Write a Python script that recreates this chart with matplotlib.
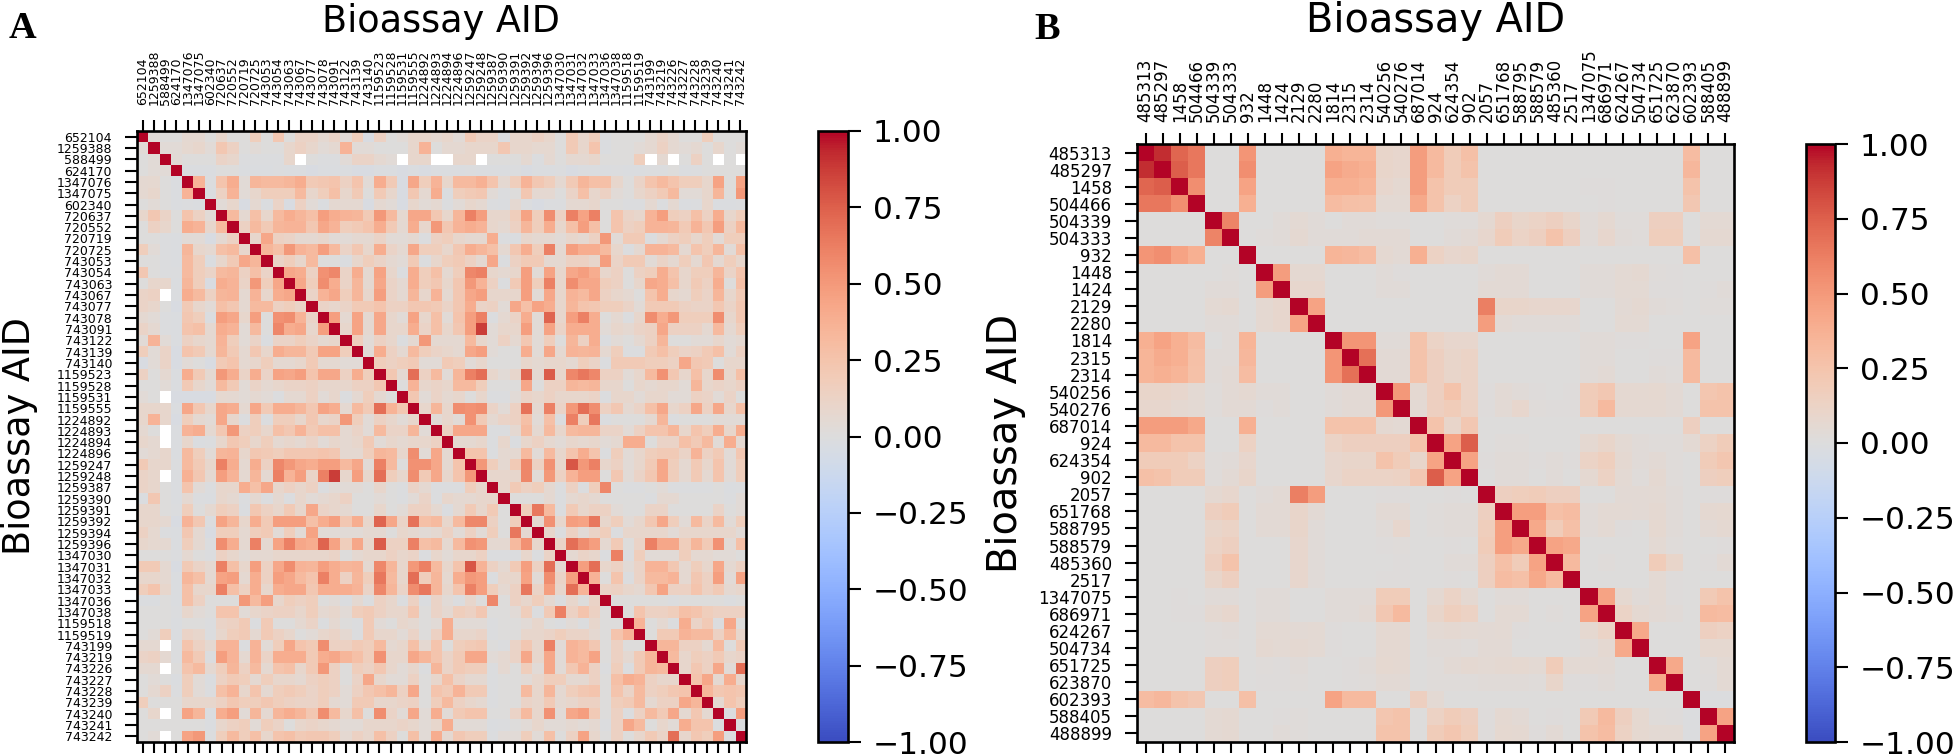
import numpy as np
import matplotlib
matplotlib.use("Agg")
import matplotlib.pyplot as plt

# bioassay ids, same order on both axes of each panel
aids_a = ["652104", "1259388", "588499", "624170", "1347076", "1347075", "602340", "720637", "720552",
          "720719", "720725", "743053", "743054", "743063", "743067", "743077", "743078", "743091",
          "743122", "743139", "743140", "1159523", "1159528", "1159531", "1159555", "1224892", "1224893",
          "1224894", "1224896", "1259247", "1259248", "1259387", "1259390", "1259391", "1259392", "1259394",
          "1259396", "1347030", "1347031", "1347032", "1347033", "1347036", "1347038", "1159518", "1159519",
          "743199", "743219", "743226", "743227", "743228", "743239", "743240", "743241", "743242"]
aids_b = ["485313", "485297", "1458", "504466", "504339", "504333", "932", "1448", "1424", "2129", "2280",
          "1814", "2315", "2314", "540256", "540276", "687014", "924", "624354", "902", "2057", "651768",
          "588795", "588579", "485360", "2517", "1347075", "686971", "624267", "504734", "651725", "623870",
          "602393", "588405", "488899"]

cbar_ticks = [-1, -0.75, -0.5, -0.25, 0, 0.25, 0.5, 0.75, 1]
cbar_labels = ["\u22121.00", "\u22120.75", "\u22120.50", "\u22120.25", "0.00", "0.25", "0.50", "0.75", "1.00"]

N = None  # no correlation available, drawn white

# upper triangle of the correlations in hundredths
upper_a = [
    [3,0,0,5,5,0,8,0,0,15,0,20,0,10,10,5,10,3,15,-3,12,0,3,8,8,5,
     8,3,18,10,10,-2,8,8,12,8,0,18,8,15,-2,0,0,0,5,10,5,0,0,15,0,0,0],
    [3,3,6,8,3,20,12,0,3,0,0,8,12,8,3,5,32,3,3,0,0,0,8,32,0,
     5,5,8,8,8,20,8,8,6,6,0,18,8,22,-2,0,0,3,5,12,5,3,5,0,8,0,3],
    [3,0,0,0,10,8,-1,-1,-1,-1,8,N,0,-1,-1,3,10,10,5,3,N,8,8,N,
     N,8,8,N,0,0,0,5,-1,5,0,5,5,8,0,0,0,15,N,5,N,0,12,0,N,0,N],
    [-2,-2,-2,0,0,-2,-2,-2,-1,-2,-2,-3,-2,-2,-2,-3,-3,-2,-2,-3,-2,-3,-2,
     -2,-2,-1,-2,-2,-2,-1,-3,-2,-2,-1,-3,-2,-2,-2,-1,-2,-2,-1,-1,0,-2,-1],
    [32,-1,22,35,3,30,28,28,30,35,18,20,22,12,22,3,35,18,-3,38,15,32,
     8,28,28,33,22,5,15,32,20,15,5,18,30,25,25,8,0,10,22,28,22,15,15,8,40,0,40],
    [-2,12,32,3,8,15,15,15,28,8,15,25,8,18,0,18,8,-3,20,5,35,
     -2,15,18,20,3,-1,0,20,5,5,0,10,25,8,12,3,0,8,12,18,28,3,3,8,30,0,45],
    [3,8,-3,5,-2,10,-3,12,3,-2,5,5,5,-3,5,3,-3,8,3,5,
     -1,3,8,5,-1,-2,5,-1,-3,-1,-1,5,5,8,0,0,-1,-1,5,-1,5,-2,-1,8,-2,-2,-1],
    [28,5,25,8,28,35,30,25,42,35,32,30,18,45,28,6,38,38,20,
     8,30,55,42,8,8,15,40,15,50,12,55,40,55,0,22,10,8,32,42,15,12,25,12,35,8,15],
    [12,28,18,30,32,32,20,38,32,15,18,22,35,18,5,35,8,45,
     20,32,35,32,8,5,12,30,15,35,8,25,42,25,0,22,12,15,32,32,30,18,32,20,42,12,28],
    [8,38,12,10,5,5,8,3,3,5,5,10,3,3,5,-1,12,
     15,8,5,5,35,-1,-2,8,5,5,3,8,5,12,45,3,18,18,-1,5,12,15,8,15,3,15,15],
    [30,25,45,32,28,42,28,10,20,8,35,10,5,38,15,15,
     8,20,35,30,25,5,20,35,15,55,5,42,35,35,28,8,-1,5,32,32,28,5,22,15,30,3,25],
    [10,15,8,28,0,0,-2,8,15,10,5,3,18,-1,8,
     15,18,12,5,38,-1,12,18,18,5,5,12,12,8,42,10,18,18,3,10,5,15,5,20,5,15,8],
    [38,35,12,48,52,10,35,5,40,8,-1,35,15,25,
     5,15,52,55,8,5,8,42,3,40,8,38,42,35,8,12,0,12,15,35,22,8,15,15,30,10,22],
    [38,15,50,35,10,30,5,38,10,5,35,15,20,
     8,20,45,32,12,-1,18,42,15,55,8,50,38,38,15,12,0,8,38,35,25,8,18,12,35,0,25],
    [10,32,38,15,30,8,42,10,5,30,8,32,
     5,20,38,42,8,8,8,42,3,38,8,32,28,38,12,8,5,0,22,35,8,5,15,10,30,8,18],
    [10,8,10,18,18,22,12,12,20,20,18,
     10,20,35,10,12,3,38,25,40,35,8,30,22,20,15,15,10,3,18,18,18,12,10,10,20,10,20],
    [42,5,40,5,38,8,3,40,8,25,
     3,22,42,55,-1,5,10,35,3,65,8,42,55,35,0,5,-1,8,50,35,45,15,15,15,50,8,20],
    [8,40,5,38,8,8,35,10,25,
     8,20,42,78,3,8,8,42,3,40,10,35,35,35,3,8,5,10,12,38,12,12,12,5,28,5,15],
    [15,3,12,8,-1,5,45,5,
     5,5,28,8,3,12,5,20,3,15,0,30,12,35,-2,3,0,5,12,30,0,0,3,3,8,3,5],
    [3,35,12,5,28,15,10,
     8,5,38,42,3,0,0,35,3,38,5,32,30,32,5,15,-1,-1,18,25,15,10,12,18,25,3,12],
    [15,12,15,18,3,3,
     18,15,3,8,0,0,0,8,5,8,8,5,15,10,-1,18,18,18,15,15,12,38,20,18,0,8,8],
    [20,5,62,12,28,
     3,30,55,62,8,3,8,65,5,68,8,52,58,52,12,12,3,8,28,48,20,8,25,8,50,8,25],
    [0,32,8,10,
     8,28,28,15,0,0,0,38,0,12,12,30,28,30,8,8,0,8,5,8,8,3,30,8,10,8,12],
    [20,3,10,
     5,8,0,8,-1,-1,3,10,8,12,8,8,8,10,-1,8,8,3,8,8,3,3,12,10,3,10,0],
    [8,30,
     8,50,48,50,10,3,12,60,5,55,10,45,62,50,12,20,5,10,25,38,8,12,38,12,38,8,25],
    [3,
     8,3,48,18,5,10,12,25,3,25,-1,55,15,58,-2,0,0,0,5,30,-1,0,0,0,3,3,3],
    [12,38,38,38,-1,-1,5,28,5,28,8,28,30,30,10,10,3,12,22,22,30,8,22,15,35,8,35],
    [5,5,8,-1,8,-2,8,12,6,3,8,6,8,3,5,35,35,0,10,10,25,18,28,3,35,5],
    [22,22,-1,5,5,28,3,28,8,22,35,22,-1,15,3,8,15,18,18,10,32,12,18,3,20],
    [45,15,5,18,52,12,48,8,70,45,55,8,12,3,8,18,38,15,5,18,8,22,3,15],
    [8,8,8,52,3,45,12,32,42,42,0,20,3,10,20,38,15,5,18,5,22,3,15],
    [8,18,12,15,5,-1,12,-1,15,52,0,-1,-1,0,3,-1,-1,-1,-1,0,-2,-1],
    [0,0,0,5,-1,5,8,5,0,0,0,0,-1,5,5,0,0,0,0,-1,3],
    [15,58,28,-1,18,8,12,12,3,0,0,10,10,0,0,0,0,10,0,3],
    [5,48,8,42,40,58,8,15,3,8,20,38,15,3,28,10,28,3,15],
    [8,-1,12,3,10,15,-1,8,8,8,8,3,8,8,8,8,8,3],
    [10,62,50,42,5,18,0,10,55,38,38,15,30,18,48,3,25],
    [5,10,8,-1,55,-1,15,3,3,3,15,5,5,3,3,0],
    [42,62,8,12,3,10,32,32,20,5,15,8,38,5,12],
    [32,0,22,-1,10,28,28,32,5,20,12,42,3,40],
    [10,12,8,5,20,40,12,12,22,12,18,5,8],
    [0,0,0,0,0,-1,0,0,0,0,-1,0],
    [0,22,12,12,15,25,22,15,12,12,12],
    [32,0,5,-1,35,10,18,-1,38,0],
    [0,18,18,32,28,28,12,28,8],
    [30,30,12,12,5,28,0,18],
    [28,8,15,12,18,8,10],
    [8,20,12,38,3,62],
    [22,38,5,35,8],
    [30,20,22,20],
    [5,22,15],
    [-1,42],
    [-1],
]

upper_b = [
    [92,72,65,0,0,52,0,0,0,0,38,35,35,10,8,48,32,18,28,0,0,0,0,0,0,0,0,0,0,0,0,30,0,0],
    [75,65,0,0,55,0,0,0,0,45,40,38,10,8,48,32,18,25,0,0,0,0,0,0,0,0,0,0,0,0,33,0,0],
    [55,0,0,45,0,0,0,0,38,38,35,8,6,48,25,18,18,0,0,0,0,0,0,1,1,0,0,0,0,25,0,0],
    [0,0,38,0,0,0,0,30,28,27,5,5,42,25,13,18,0,0,0,0,0,0,0,1,0,0,0,0,22,0,0],
    [60,0,0,3,5,3,0,3,3,2,2,0,0,2,2,6,15,10,12,15,10,3,6,2,2,15,15,0,5,5],
    [0,2,3,6,3,3,3,4,4,4,0,0,3,4,8,18,12,15,25,15,3,8,3,2,17,17,0,6,6],
    [0,0,0,0,35,33,30,6,4,38,13,8,10,0,0,0,0,0,0,0,0,0,0,0,0,28,0,0],
    [48,6,6,0,0,0,3,1,0,0,0,0,3,4,4,0,0,0,3,3,5,6,2,1,0,0,0],
    [8,8,0,0,0,3,3,0,0,0,0,4,4,4,0,0,0,3,3,5,5,1,1,0,1,3],
    [45,0,0,0,0,0,0,0,0,0,62,10,10,8,8,8,0,0,4,6,3,2,0,2,2],
    [0,0,0,0,0,0,0,0,0,48,4,3,3,3,3,0,0,5,5,0,0,0,0,0],
    [52,52,3,3,25,12,8,8,0,0,0,0,0,0,3,3,1,1,0,0,45,0,0],
    [68,4,4,25,15,10,12,0,0,0,0,0,0,3,3,0,0,1,1,32,0,0],
    [4,4,25,15,10,12,0,0,0,0,0,0,3,4,0,0,3,2,32,0,0],
    [50,6,15,25,12,1,4,3,1,0,1,18,22,6,6,7,4,0,23,25],
    [5,15,18,13,1,4,8,2,1,1,18,32,6,6,6,4,0,25,25],
    [25,10,22,0,0,0,0,0,0,0,0,0,0,0,0,15,0,0],
    [45,75,0,2,2,0,0,0,6,10,5,3,2,2,5,13,18],
    [45,1,3,3,1,3,1,12,16,6,3,4,2,0,18,23],
    [0,3,3,0,3,0,6,13,5,2,6,2,0,15,17],
    [15,17,18,15,15,0,0,4,4,5,3,0,1,1],
    [47,47,28,30,3,5,5,4,6,3,0,6,7],
    [42,18,28,3,5,1,0,7,3,0,4,6],
    [45,42,0,0,0,0,5,2,0,0,1],
    [32,0,2,0,0,18,10,0,1,4],
    [0,0,0,0,5,1,0,0,0],
    [45,7,3,5,1,0,20,25],
    [12,6,4,3,0,32,30],
    [42,0,0,0,15,13],
    [0,0,0,7,7],
    [42,0,2,5],
    [0,1,5],
    [-1,-1],
    [45],
]


def build_matrix(upper, gain=1.0):
    # gain corrects for reading the pale cells of a panel a bit too low
    n = len(upper) + 1
    m = np.eye(n)
    for i, row in enumerate(upper):
        vals = np.array([np.nan if v is None else gain * v / 100 for v in row])
        m[i, i + 1:i + 1 + len(vals)] = vals
    low = np.tril_indices(n, -1)
    m[low] = m.T[low]
    return m


def box(left, top, right, bottom):
    # pixel box on the 1960x756 canvas to figure fractions
    return [left / 1960, 1 - bottom / 756, (right - left) / 1960, (bottom - top) / 756]


def draw_panel(pos, cbar_pos, labels, upper, tick_fs, pad_x, gain=1.0):
    ax = fig.add_axes(box(*pos))
    im = ax.imshow(build_matrix(upper, gain), cmap="coolwarm", vmin=-1, vmax=1, aspect="auto",
                   interpolation="nearest")
    ticks = np.arange(len(labels))
    ax.set_xticks(ticks)
    ax.set_yticks(ticks)
    ax.set_xticklabels(labels, rotation=90, fontsize=tick_fs)
    ax.set_yticklabels(labels, fontsize=tick_fs)
    ax.tick_params(axis="x", top=True, bottom=True, labeltop=True, labelbottom=False,
                   length=8, width=1.5, pad=pad_x)
    ax.tick_params(axis="y", length=9, width=1.5, pad=9)
    for s in ax.spines.values():
        s.set_linewidth(1.9)
    cax = fig.add_axes(box(*cbar_pos))
    cb = fig.colorbar(im, cax=cax)
    cb.set_ticks(cbar_ticks)
    cb.set_ticklabels(cbar_labels)
    cb.ax.tick_params(labelsize=22.5, length=9, width=1.5, pad=9)
    cb.outline.set_linewidth(1.9)


fig = plt.figure(figsize=(19.6, 7.56), dpi=100)

draw_panel((137, 131, 746, 742), (818, 131, 848, 742), aids_a, upper_a, 9, 11, gain=1.12)
draw_panel((1137, 144, 1734, 742), (1806, 144, 1835, 742), aids_b, upper_b, 12, 8)

fig.text(441 / 1960, 1 - 32 / 756, "Bioassay AID", fontsize=26.4, ha="center", va="baseline")
fig.text(20 / 1960, 1 - 436 / 756, "Bioassay AID", fontsize=26.4, rotation=90, ha="center", va="center")
fig.text(1436 / 1960, 1 - 32 / 756, "Bioassay AID", fontsize=28.7, ha="center", va="baseline")
fig.text(1006 / 1960, 1 - 443 / 756, "Bioassay AID", fontsize=28.7, rotation=90, ha="center", va="center")
fig.text(9 / 1960, 1 - 38 / 756, "A", family="Liberation Serif", weight="bold", fontsize=27.5, va="baseline")
fig.text(1034 / 1960, 1 - 39 / 756, "B", family="Liberation Serif", weight="bold", fontsize=27.5, va="baseline")

fig.savefig("out.png", dpi=100)
